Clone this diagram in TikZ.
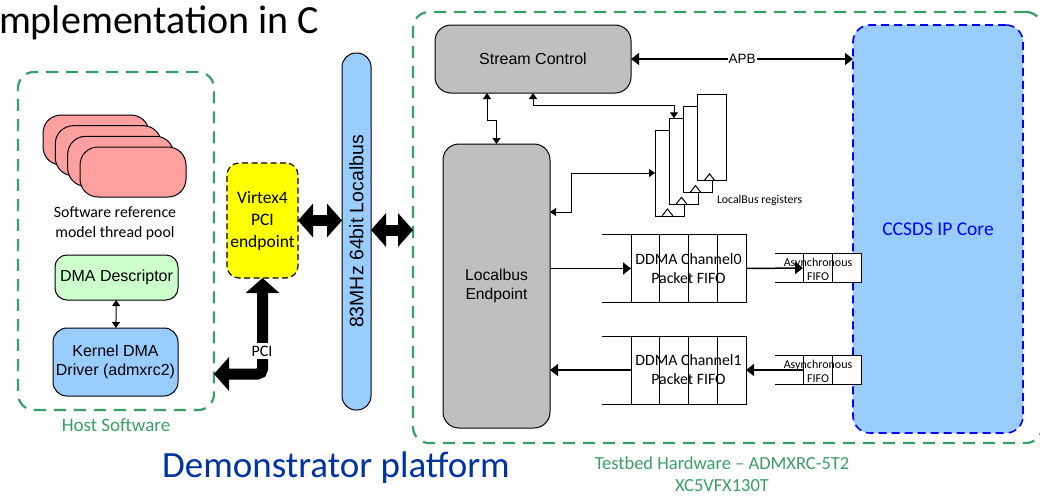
\documentclass[tikz,border=0pt]{standalone}
\usepackage{fontspec}
\setmainfont{Carlito}
\newfontfamily\arial{Liberation Sans}
\usetikzlibrary{arrows.meta}
\newcommand\fz[2]{\fontsize{#1}{#2}\selectfont}
\definecolor{hgreen}{RGB}{58,158,104}
\definecolor{pinkc}{RGB}{255,160,160}
\definecolor{lgreen}{RGB}{204,255,204}
\definecolor{lblue}{RGB}{153,204,255}
\definecolor{grayc}{RGB}{191,191,191}
\definecolor{yellowc}{RGB}{255,255,0}
\definecolor{bluec}{RGB}{0,0,255}
\definecolor{dblue}{RGB}{0,50,160}
\begin{document}
\begin{tikzpicture}[x=1pt,y=-1pt,
  every node/.style={inner sep=0pt, outer sep=0pt},
  blk/.style={draw=black, line width=1pt, align=center},
  greenbox/.style={draw=hgreen, line width=2.2pt, dash pattern=on 12pt off 8pt, rounded corners=16pt},
  pinkbox/.style={blk, fill=pinkc, minimum width=106pt, minimum height=50pt, rounded corners=18pt},
  regbox/.style={blk, fill=white, minimum width=29pt, minimum height=86pt},
  armed/.style={line width=1.5pt, {Triangle[length=8pt,width=12pt]}-{Triangle[length=8pt,width=12pt]}},
  armedone/.style={line width=1.5pt, -{Triangle[length=8pt,width=12pt]}},
  arthin/.style={line width=1pt, {Triangle[length=6pt,width=8pt]}-{Triangle[length=6pt,width=8pt]}},
  bigarrow/.style={line width=11pt, {Triangle[length=15pt,width=33pt]}-{Triangle[length=15pt,width=33pt]}},
  arialtxt/.style={font=\arial\fz{16}{19}},
  calsmall/.style={font=\fz{12}{14}}
]
\useasboundingbox (0,0) rectangle (1040,496);

% title and captions
\node[font=\fz{40}{48}, anchor=base west] (title) at (-1,33) {mplementation in C};
\node[font=\fz{37}{44}, text=dblue] (demo) at (336,468) {Demonstrator platform};
\node[font=\fz{18.5}{22}, text=hgreen, align=center] (tblbl) at (722,474.5) {Testbed Hardware – ADMXRC-5T2\\XC5VFX130T};

% host software
\node[greenbox, minimum width=196pt, minimum height=338pt] (host) at (116,241) {};
\node[font=\fz{19}{22}, text=hgreen] (hostlbl) at (116,425) {Host Software};
\node[pinkbox] (p1) at (96,140) {};
\node[pinkbox] (p2) at (108.3,150.7) {};
\node[pinkbox] (p3) at (120.7,161.3) {};
\node[pinkbox] (p4) at (133,172) {};
\node[font=\fz{15.8}{20}, align=center] (swlbl) at (115,223) {Software reference\\model thread pool};
\node[blk, fill=lgreen, rounded corners=12pt, minimum width=123pt, minimum height=45pt, arialtxt] (dmadesc) at (116.5,277.5) {DMA Descriptor};
\node[blk, fill=lblue, rounded corners=14pt, minimum width=125pt, minimum height=68pt, arialtxt] (kernel) at (115.5,362) {Kernel DMA\\Driver (admxrc2)};
\draw[arthin] (dmadesc) -- (kernel);

% virtex
\node[draw=black, line width=1.2pt, dash pattern=on 6pt off 3.5pt, fill=yellowc, rounded corners=12pt, minimum width=71pt, minimum height=115pt, align=center, font=\fz{17.5}{22}] (virtex) at (262.5,220.5) {Virtex4\\PCI\\endpoint};
\coordinate (pciy) at (0,374);
\draw[bigarrow, rounded corners=5pt] (virtex.south) |- (host.east |- pciy);
\node[fill=white, inner ysep=3pt, inner xsep=1pt, font=\fz{16}{19}] (pci) at (262,351) {PCI};

% localbus
\node[blk, fill=lblue, rounded corners=14pt, minimum width=29pt, minimum height=357pt] (localbus) at (356.5,231.5) {};
\node[rotate=90, font=\arial\fz{19.5}{22}] (lblbl) at (localbus.center) {83MHz 64bit Localbus};
\draw[bigarrow] (virtex.east) -- (localbus.west |- virtex.east);

% testbed
\node[greenbox, minimum width=629pt, minimum height=431pt] (testbed) at (727.5,227.5) {};
\draw[bigarrow] (localbus.east |- 0,230) -- (testbed.west |- 0,230);

\node[blk, fill=grayc, rounded corners=16pt, minimum width=196pt, minimum height=68pt, arialtxt] (stream) at (533,59) {Stream Control};
\node[draw=bluec, line width=1.6pt, dash pattern=on 8pt off 5pt, fill=lblue, rounded corners=17pt, minimum width=170pt, minimum height=408pt, text=bluec, font=\fz{19.5}{22}] (ccsds) at (938,229) {CCSDS IP Core};
\node[blk, fill=grayc, rounded corners=16pt, minimum width=107pt, minimum height=284pt, font=\arial\fz{15.7}{19}] (endpoint) at (496.5,286) {Localbus\\Endpoint};

\draw[armed] (stream.east) -- (ccsds.west |- stream.east) node[midway, fill=white, inner xsep=1pt, inner ysep=2pt, font=\arial\fz{13.5}{16}] (apb) {APB};

% registers
\foreach \n/\cx/\cy in {r1/669.5/173, r2/683.5/161.3, r3/697.5/149.6, r4/711.5/137.9} {
  \node[regbox] (\n) at (\cx,\cy) {};
  \draw[line width=1pt] ([xshift=-7.5pt]\n.south) -- ++(5.5,-7) -- ++(5.5,7);
}
\node[font=\fz{11.8}{14}, anchor=west] (reglbl) at (717,200) {LocalBus registers};

\draw[arthin] ([xshift=-46pt]stream.south) -- ++(0,27) -| (endpoint.north);
\draw[arthin] (stream.south) -- ++(0,12) -| ([xshift=-9.5pt]r2.north);
\draw[arthin] ([yshift=74pt]endpoint.east) -- ++(21,0) |- (r1.west);

% FIFOs
\foreach \f/\cy/\t in {fifo0/268.5/0, fifo1/370/1} {
  \node[minimum width=115pt, minimum height=68pt] (\f) at (688.5,\cy) {};
  \draw[line width=1pt] ([xshift=-29pt]\f.north west) -- (\f.north east) -- (\f.south east) -- ([xshift=-29pt]\f.south west);
  \foreach \i in {0,1,2,3} \draw[line width=1pt] ([xshift=\i*28.75pt]\f.north west) -- ([xshift=\i*28.75pt]\f.south west);
  \node[font=\fz{15.8}{19}, align=center] at (\f.center) {DDMA Channel\t\\Packet FIFO};
}
\foreach \a/\cy in {async0/268, async1/370} {
  \node[blk, fill=white, minimum width=58pt, minimum height=29pt] (\a) at (832,\cy) {};
  \draw[line width=1pt] (\a.north) -- (\a.south);
  \draw[line width=1pt] (\a.north west) -- ++(-28,0);
  \draw[line width=1pt] (\a.south west) -- ++(-28,0);
  \node[calsmall, align=center] at ([xshift=-14pt,yshift=-1pt]\a.center) {Asynchronous\\FIFO};
}
\draw[armedone] (endpoint.east |- fifo0.west) -- (fifo0.west);
\draw[armedone] (fifo0.east) -- (async0.west);
\draw[armedone] (async1.west) -- (fifo1.east);
\draw[armedone] (fifo1.west) -- (endpoint.east |- fifo1.west);
\end{tikzpicture}
\end{document}
